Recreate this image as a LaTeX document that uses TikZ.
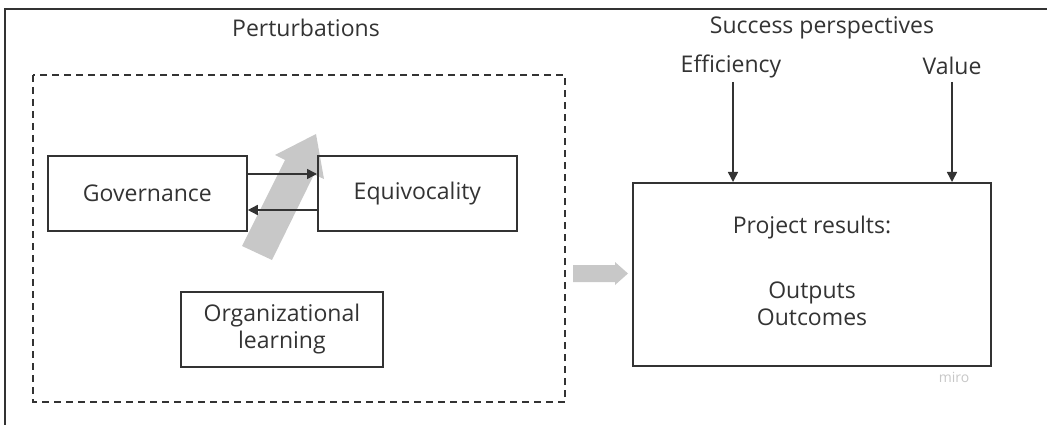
\documentclass[tikz,border=0pt]{standalone}
\usepackage{fontspec}
\setmainfont{Open Sans}
\usetikzlibrary{arrows.meta}
\definecolor{ink}{HTML}{333333}
\definecolor{greyfill}{HTML}{C8C8C8}
\begin{document}
\begin{tikzpicture}[x=1pt,y=-1pt,
  every node/.style={font=\fontsize{23}{27}\selectfont, text=ink},
  box/.style={draw=ink, line width=1.8pt, inner sep=0pt, anchor=north west},
  link/.style={draw=ink, line width=1.5pt, -{Triangle[length=10pt,width=10pt]}}]
\useasboundingbox (0,0) rectangle (1047,425);
% outer frame (top and left edges only)
\draw[ink, line width=2pt] (1047,9) -- (5,9) -- (5,425);
% perturbations group
\draw[ink, line width=1.3pt, dash pattern=on 7pt off 5pt] (33,75) rectangle (565,402);
\node (pert) at (306,28) {Perturbations};
\node (succ) at (822,28) {Success perspectives};
% broad grey arrow behind the two boxes
\fill[greyfill] (242,246) -- (272,260) -- (314,174.5) -- (324,179) -- (316,134) -- (275,155) -- (285,160) -- cycle;
\node[box, minimum width=199pt, minimum height=75pt] (gov) at (47,155) {};
\node at (gov.center) {Governance};
\node[box, minimum width=199pt, minimum height=75pt] (equ) at (317,155) {};
\node at (equ.center) {Equivocality};
\coordinate (upper) at (0,174);
\coordinate (lower) at (0,210);
\draw[link] (gov.east |- upper) -- (equ.west |- upper);
\draw[link] (equ.west |- lower) -- (gov.east |- lower);
\node[box, minimum width=202pt, minimum height=75pt] (org) at (180,291) {};
\node[align=center] at (org.center) {Organizational\\learning};
% transfer arrow
\fill[greyfill] (573,265) -- (615,265) -- (615,262) -- (628,273.5) -- (615,285) -- (615,282) -- (573,282) -- cycle;
% results
\node[box, minimum width=358pt, minimum height=183pt] (res) at (632,182) {};
\node (rt) at (812,228) {Project results:};
\node[align=center] (ro) at (812,304) {Outputs\\Outcomes};
\node (eff) at (731,66) {Efficiency};
\node (val) at (952,66) {Value};
\coordinate (effs) at (733,82);
\coordinate (vals) at (952,82);
\draw[link] (effs) -- (effs |- res.north);
\draw[link] (vals) -- (vals |- res.north);
\node[font=\fontsize{14}{16}\selectfont, text=black!22] (miro) at (954,377) {miro};
\end{tikzpicture}
\end{document}
